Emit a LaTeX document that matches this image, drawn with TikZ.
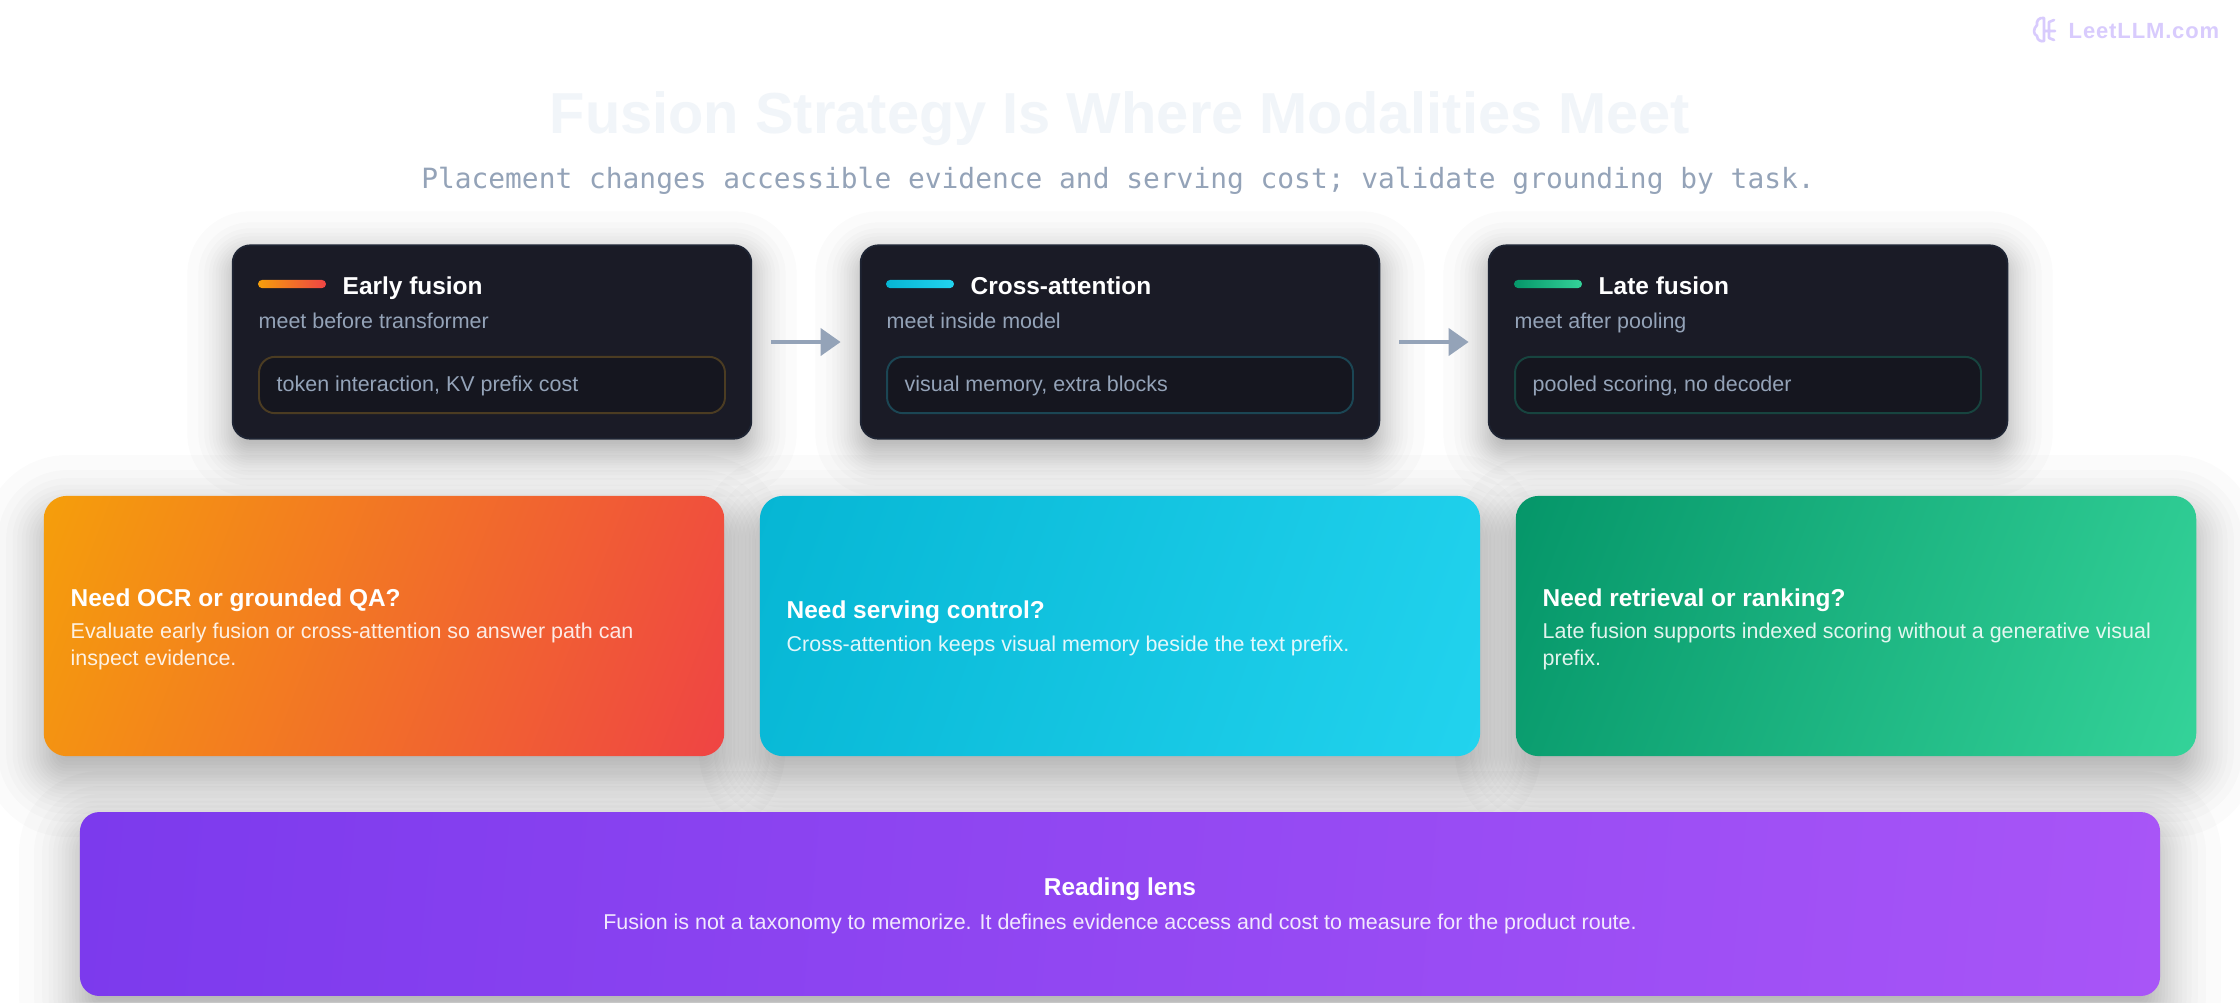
\documentclass[tikz,border=0pt]{standalone}
\usepackage{fontspec}
\setmainfont{Liberation Sans}
\newfontfamily\monofam{DejaVu Sans Mono}
\newfontfamily\brandfam[LetterSpace=4]{Liberation Sans}
\usepackage{xcolor}
\usetikzlibrary{arrows.meta, positioning}

\definecolor{cardfill}{HTML}{1A1B26}
\definecolor{cardedge}{HTML}{1E2433}
\definecolor{pillfill}{HTML}{15161F}
\definecolor{pillamber}{HTML}{4B3C22}
\definecolor{pillteal}{HTML}{1B4654}
\definecolor{pillgreen}{HTML}{17443F}
\definecolor{slate}{HTML}{94A3B8}
\definecolor{titleink}{HTML}{F1F5F9}
\definecolor{brand}{HTML}{D8CBFD}
\definecolor{amberA}{HTML}{F59E0B}
\definecolor{amberB}{HTML}{EF4444}
\definecolor{cyanA}{HTML}{06B6D4}
\definecolor{cyanB}{HTML}{22D3EE}
\definecolor{greenA}{HTML}{059669}
\definecolor{greenB}{HTML}{34D399}
\definecolor{violetA}{HTML}{7C3AED}
\definecolor{violetB}{HTML}{A855F7}

% corner to corner fades, the stops cover just the box
\newcommand{\declarefade}[5]{\pgfdeclareverticalshading{#1}{100bp}{color(0bp)=(#3); color(#4bp)=(#3); color(#5bp)=(#2); color(100bp)=(#2)}}
\declarefade{amberfade}{amberA}{amberB}{17.7}{82.3}
\declarefade{cyanfade}{cyanA}{cyanB}{18}{82}
\declarefade{greenfade}{greenA}{greenB}{17.7}{82.3}
\declarefade{violetfade}{violetA}{violetB}{22.9}{77.1}

\begin{document}
\begin{tikzpicture}[
            x=0.01cm, y=-0.01cm,
            card/.style={rectangle, draw=cardedge, line width=0.5pt, fill=cardfill, rounded corners=5pt,
                minimum width=147.5pt, minimum height=55pt, inner sep=0pt, outer sep=0pt},
            pill/.style={rectangle, fill=pillfill, line width=0.55pt, rounded corners=4.5pt,
                minimum width=132.5pt, minimum height=16pt, inner sep=0pt},
            bar/.style={rectangle, rounded corners=1.1pt, minimum width=19.3pt, minimum height=2.3pt, inner sep=0pt},
            big/.style={rectangle, shade, rounded corners=6.5pt, minimum height=74pt, inner sep=0pt, outer sep=0pt},
            head/.style={anchor=base west, inner sep=0pt, text=white, font=\fontsize{6.95pt}{8pt}\selectfont\bfseries},
            note/.style={anchor=base west, inner sep=0pt, text=slate, font=\fontsize{6.1pt}{7pt}\selectfont},
            body/.style={anchor=base west, inner sep=0pt, align=left, text=white, text opacity=0.88,
                font=\fontsize{6.1pt}{7.4pt}\selectfont},
            flow/.style={-{Triangle[length=5.7pt, width=7.7pt]}, line width=1.14pt, draw=slate, shorten <=5.7pt, shorten >=5.7pt}
        ]
        \useasboundingbox (0,0) rectangle (2240,1002);
        \fill[white] (0,0) rectangle (2240,1002);

        % Shadows, all under the cards
        \foreach \xa/\ya/\xb/\yb/\sg/\dy/\rad in {232/244/752/440/22/12/18, 860/244/1380/440/22/12/18, 1488/244/2008/440/22/12/18,
                44/496/724/756/30/20/23, 760/496/1480/756/30/20/23, 1516/496/2196/756/30/20/23, 80/812/2160/996/30/20/20}
            \foreach \z in {203,153,126,105,89,74,61,49,37,26,16,5,-5,-16,-26,-37,-49,-61,-74,-89,-105,-126,-153,-203} {
                \pgfmathsetmacro{\grow}{\z*\sg/100}
                \pgfmathsetmacro{\bend}{max(\rad+\grow,2)*0.2845}
                \fill[black, fill opacity=0.015, rounded corners=\bend pt]
                    (\xa-\grow,\ya+\dy-\grow) rectangle (\xb+\grow,\yb+\dy+\grow);
            }

        % Watermark
        \node[anchor=base west, inner sep=0pt, text=brand, font=\fontsize{6.25pt}{8pt}\selectfont\brandfam\bfseries] (brandname) at (2068,38) {LeetLLM.com};
        \draw[brand, line width=0.75pt, line cap=round, line join=round]
            (2044,18) .. controls (2039,17) and (2036,21) .. (2037,25) .. controls (2033,29) and (2033,34) .. (2037,36)
            .. controls (2037,40) and (2041,42) .. (2044,41) -- (2044,18)
            (2044,31) -- (2055,31) (2049,31) -- (2049,22) -- (2054,20) (2049,31) -- (2049,38) -- (2054,40);

        % Title
        \node[anchor=base, inner sep=0pt, text=titleink, font=\fontsize{16.44pt}{18pt}\selectfont\bfseries] (title) at (1120,133) {Fusion Strategy Is Where Modalities Meet};
        \node[anchor=base, inner sep=0pt, text=slate, font=\fontsize{7.93pt}{10pt}\selectfont\monofam] (subtitle) at (1118,188) {Placement changes accessible evidence and serving cost; validate grounding by task.};

        % Top row
        \node[card] (early) at (492,342) {};
        \node[card] (cross) at (1120,342) {};
        \node[card] (late) at (1748,342) {};

        \node[bar, left color=amberA, right color=amberB] (earlybar) at (292,284) {};
        \node[bar, left color=cyanA, right color=cyanB] (crossbar) at (920,284) {};
        \node[bar, left color=greenA, right color=greenB] (latebar) at (1548,284) {};

        \node[head] (earlyhead) at (342,294) {Early fusion};
        \node[head] (crosshead) at (970,294) {Cross-attention};
        \node[head] (latehead) at (1598,294) {Late fusion};

        \node[note] (earlynote) at (258,328) {meet before transformer};
        \node[note] (crossnote) at (886,328) {meet inside model};
        \node[note] (latenote) at (1514,328) {meet after pooling};

        \node[pill, draw=pillamber] (earlypill) at (492,385) {};
        \node[pill, draw=pillteal] (crosspill) at (1120,385) {};
        \node[pill, draw=pillgreen] (latepill) at (1748,385) {};

        \node[note] (earlytag) at (276,391) {token interaction, KV prefix cost};
        \node[note] (crosstag) at (904,391) {visual memory, extra blocks};
        \node[note] (latetag) at (1532,391) {pooled scoring, no decoder};

        % Arrows
        \draw[flow] (early) -- (cross);
        \draw[flow] (cross) -- (late);

        % Middle row
        \node[big, minimum width=193.5pt, shading=amberfade, shading angle=69.1] (ocr) at (384,626) {};
        \node[big, minimum width=204.8pt, shading=cyanfade, shading angle=70.1] (serving) at (1120,626) {};
        \node[big, minimum width=193.5pt, shading=greenfade, shading angle=69.1] (ranking) at (1856,626) {};

        \node[head] (ocrhead) at (70,606) {Need OCR or grounded QA?};
        \node[body] (ocrbody) at (70,665) {Evaluate early fusion or cross-attention so answer path can\\inspect evidence.};

        \node[head] (servinghead) at (786,618) {Need serving control?};
        \node[body] (servingbody) at (786,651) {Cross-attention keeps visual memory beside the text prefix.};

        \node[head] (rankinghead) at (1542,606) {Need retrieval or ranking?};
        \node[body] (rankingbody) at (1542,665) {Late fusion supports indexed scoring without a generative visual\\prefix.};

        % Bottom band
        \node[big, minimum width=591.5pt, minimum height=52.3pt, rounded corners=5.5pt, shading=violetfade, shading angle=84.9] (lens) at (1120,904) {};
        \node[head, anchor=base] (lenshead) at (1120,895) {Reading lens};
        \node[body, anchor=base] (lensbody) at (1120,929) {Fusion is not a taxonomy to memorize. It defines evidence access and cost to measure for the product route.};
    \end{tikzpicture}
\end{document}
